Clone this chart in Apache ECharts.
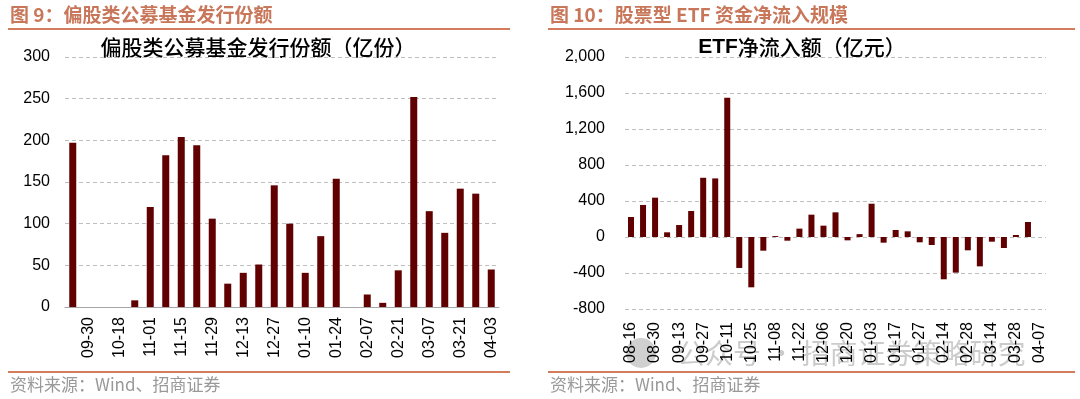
<!DOCTYPE html>
<html>
<head>
<meta charset="utf-8">
<script src="https://cdn.jsdelivr.net/npm/echarts@6/dist/echarts.min.js"></script>
<style>
  html, body { margin: 0; padding: 0; background: #fff; }
  #main { width: 1080px; height: 399px; }
</style>
</head>
<body>
<div id="main"></div>
<script>
// 偏股类公募基金发行份额（亿份）
const fundDates = ['09-23', '09-30', '10-11', '10-18', '10-25', '11-01', '11-08', '11-15', '11-22', '11-29',
  '12-06', '12-13', '12-20', '12-27', '01-03', '01-10', '01-17', '01-24', '01-31', '02-07',
  '02-14', '02-21', '02-28', '03-07', '03-14', '03-21', '03-28', '04-03'];
const fundIssue = [197, 0, 0, 0, 8, 120, 182, 204, 194, 106,
  28, 41, 51, 146, 100, 41, 85, 154, 0, 15,
  5, 44, 252, 115, 89, 142, 136, 45];

// ETF净流入额（亿元）
const etfDates = ['08-16', '08-23', '08-30', '09-06', '09-13', '09-20', '09-27', '10-04', '10-11', '10-18',
  '10-25', '11-01', '11-08', '11-15', '11-22', '11-29', '12-06', '12-13', '12-20', '12-27',
  '01-03', '01-10', '01-17', '01-24', '01-27', '02-07', '02-14', '02-21', '02-28', '03-07',
  '03-14', '03-21', '03-28', '04-03', '04-07'];
const etfFlow = [222, 356, 437, 52, 133, 289, 658, 651, 1547, -344,
  -559, -152, 10, -41, 93, 248, 126, 274, -37, 32,
  370, -63, 78, 63, -59, -89, -470, -396, -148, -326,
  -52, -122, 22, 167, null];

const barColor = '#600000';
const accent = '#d27c5c';
const cjk = '"Noto Sans CJK SC", sans-serif';
const latin = '"Liberation Sans", Arial, sans-serif';

const chart = echarts.init(document.getElementById('main'));

const gridLine = { show: true, lineStyle: { color: '#bfbfbf', type: [4, 3], width: 1 } };
const catLabel = { rotate: 90, fontSize: 16, color: '#000', fontFamily: latin, margin: 10 };

chart.setOption({
  animation: false,
  grid: [
    { left: 65, top: 57, width: 434, height: 250 },
    { left: 625, top: 57, width: 421, height: 252 }
  ],
  xAxis: [
    {
      type: 'category', gridIndex: 0, data: fundDates,
      axisLine: { show: true, lineStyle: { color: '#a6a6a6', width: 1 } },
      axisTick: { show: false },
      axisLabel: Object.assign({}, catLabel, { interval: (i) => i % 2 === 1 })
    },
    {
      type: 'category', gridIndex: 1, data: etfDates,
      axisLine: { show: false, onZero: false },
      axisTick: { show: false },
      axisLabel: Object.assign({}, catLabel, { interval: 1, margin: 13 })
    }
  ],
  yAxis: [
    {
      type: 'value', gridIndex: 0, min: 0, max: 300, interval: 50,
      axisLine: { show: false }, axisTick: { show: false },
      splitLine: gridLine,
      axisLabel: { fontSize: 16, color: '#000', fontFamily: latin, margin: 15 }
    },
    {
      type: 'value', gridIndex: 1, min: -800, max: 2000, interval: 400,
      axisLine: { show: false }, axisTick: { show: false },
      splitLine: gridLine,
      axisLabel: {
        fontSize: 16, color: '#000', fontFamily: latin, margin: 20,
        formatter: (v) => v.toLocaleString('en-US')
      }
    }
  ],
  series: [
    {
      type: 'bar', xAxisIndex: 0, yAxisIndex: 0, data: fundIssue,
      barWidth: 7, itemStyle: { color: barColor }
    },
    {
      type: 'bar', xAxisIndex: 1, yAxisIndex: 1, data: etfFlow,
      barWidth: 6, itemStyle: { color: barColor }
    }
  ],
  graphic: [
    // 标题栏
    { type: 'text', x: 10, y: 15, style: { text: '图 9：偏股类公募基金发行份额', font: 'bold 19px ' + cjk, fill: '#c8775a', verticalAlign: 'middle' } },
    { type: 'text', x: 550, y: 15, style: { text: '图 10：股票型 ETF 资金净流入规模', font: 'bold 19px ' + cjk, fill: '#c8775a', verticalAlign: 'middle' } },
    { type: 'line', shape: { x1: 8, y1: 29, x2: 510, y2: 29 }, style: { stroke: accent, lineWidth: 2 } },
    { type: 'line', shape: { x1: 548, y1: 29, x2: 1075, y2: 29 }, style: { stroke: accent, lineWidth: 2 } },
    // 图内标题
    { type: 'text', x: 258, y: 47, style: { text: '偏股类公募基金发行份额（亿份）', font: '500 21px ' + cjk, fill: '#000', align: 'center', verticalAlign: 'middle' } },
    { type: 'text', x: 802, y: 47, style: {
      text: '{b|ETF}{n|净流入额（亿元）}', align: 'center', verticalAlign: 'middle',
      rich: {
        b: { font: 'bold 21px ' + latin, fill: '#000' },
        n: { font: '500 21px ' + cjk, fill: '#000' }
      }
    } },
    // 水印
    { type: 'circle', shape: { cx: 641, cy: 353, r: 15 }, style: { fill: 'rgba(150,150,150,0.45)' }, z: -1 },
    { type: 'text', x: 677, y: 353, z: -1, style: { text: '公众号 · 招商证券策略研究', font: '28px ' + cjk, fill: 'rgba(140,140,140,0.45)', verticalAlign: 'middle' } },
    // 资料来源
    { type: 'line', shape: { x1: 8, y1: 372, x2: 510, y2: 372 }, style: { stroke: accent, lineWidth: 2 } },
    { type: 'line', shape: { x1: 548, y1: 372, x2: 1075, y2: 372 }, style: { stroke: accent, lineWidth: 2 } },
    { type: 'text', x: 10, y: 385, style: { text: '资料来源：Wind、招商证券', font: '17px ' + cjk, fill: '#999', verticalAlign: 'middle' } },
    { type: 'text', x: 550, y: 385, style: { text: '资料来源：Wind、招商证券', font: '17px ' + cjk, fill: '#999', verticalAlign: 'middle' } }
  ]
});
</script>
</body>
</html>
